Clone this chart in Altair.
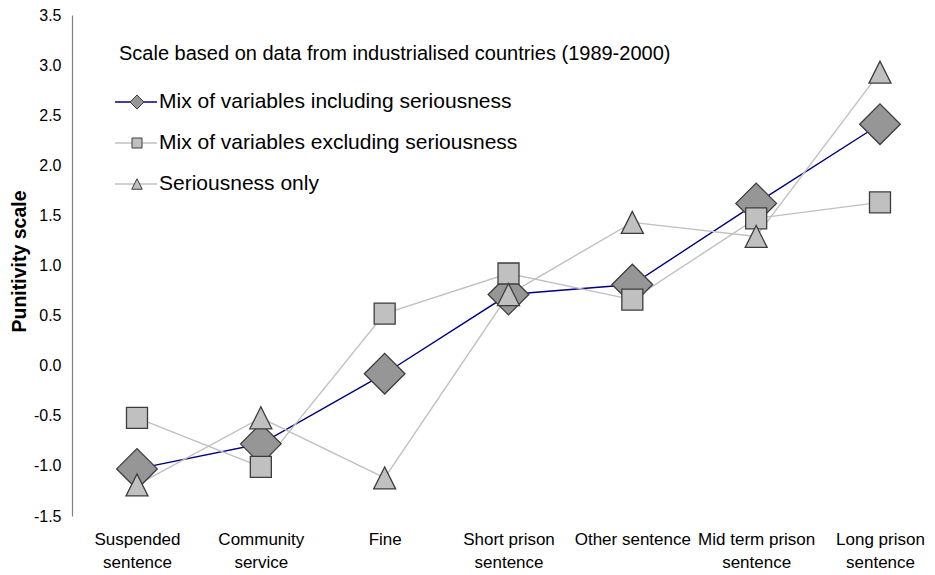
import altair as alt
import pandas as pd

categories = ["Suspended sentence", "Community service", "Fine", "Short prison sentence",
              "Other sentence", "Mid term prison sentence", "Long prison sentence"]
single_line = ["Fine", "Other sentence"]
series_names = ["Mix of variables including seriousness",
                "Mix of variables excluding seriousness",
                "Seriousness only"]
incl = [-1.03, -0.78, -0.08, 0.71, 0.81, 1.62, 2.41]
excl = [-0.52, -1.01, 0.52, 0.92, 0.66, 1.47, 1.63]
seri = [-1.19, -0.52, -1.12, 0.71, 1.43, 1.29, 2.93]
y_ticks = [-1.5, -1.0, -0.5, 0.0, 0.5, 1.0, 1.5, 2.0, 2.5, 3.0, 3.5]
legend_title = "Scale based on data from industrialised countries (1989-2000)"
y_title = "Punitivity scale"

FONT = "Liberation Sans"
line_colors = ["#000080", "#c0c0c0", "#c0c0c0"]
fills = ["#969696", "#c0c0c0", "#c0c0c0"]
tri = "M0,-1L-1,1L1,1Z"
shapes = ["diamond", "square", tri]
sizes = [1650, 441, 484]
leg_sizes = [196, 100, 110]

rows = []
for name, vals in zip(series_names, [incl, excl, seri]):
    for c, v in zip(categories, vals):
        rows.append({"category": c, "series": name, "value": v})
df = pd.DataFrame(rows)

cond = " || ".join(f"datum.label == '{s}'" for s in single_line)
label_expr = (f"({cond}) ? datum.label : [substring(datum.label, 0, lastindexof(datum.label, ' ')), "
              f"substring(datum.label, lastindexof(datum.label, ' ') + 1)]")

x_enc = alt.X("category:N", sort=categories,
              scale=alt.Scale(type="point", range=[65, 808], padding=0),
              axis=alt.Axis(title=None, domain=False, ticks=False, labelAngle=0,
                            labelFont=FONT, labelFontSize=17, labelColor="#000",
                            labelPadding=15, labelLineHeight=23, labelExpr=label_expr,
                            labelBaseline="top"))
y_enc = alt.Y("value:Q", scale=alt.Scale(domain=[-1.5, 3.5], nice=False, zero=False),
              axis=alt.Axis(title=y_title, values=y_ticks, format=".1f",
                            labelExpr="replace(datum.label, '\u2212', '-')",
                            grid=False, ticks=False, domainColor="#808080", domainWidth=1.2,
                            labelFont=FONT, labelFontSize=16, labelColor="#000", labelPadding=11,
                            titleFont=FONT, titleFontSize=19.5, titleFontWeight="bold",
                            titleColor="#000", titleAngle=270, titleAlign="center",
                            titleBaseline="middle", titleX=-53, titleY=246))

base = alt.Chart(df)
lines = base.mark_line(strokeWidth=1.4).encode(
    x=x_enc, y=y_enc,
    color=alt.Color("series:N", scale=alt.Scale(domain=series_names, range=line_colors), legend=None),
    detail="series:N",
)

layers = [lines]
for i, name in enumerate(series_names):
    layers.append(
        base.transform_filter(alt.datum.series == name).mark_point(
            shape=shapes[i], size=sizes[i], filled=True, fill=fills[i], stroke="#3c3c3c",
            strokeWidth=1.3, opacity=1, fillOpacity=1
        ).encode(x=x_enc, y=y_enc)
    )

# manual legend
title_df = pd.DataFrame({"t": [legend_title]})
layers.append(alt.Chart(title_df).mark_text(align="left", baseline="middle", font=FONT,
                                            fontSize=20, color="#000").encode(
    x=alt.value(47), y=alt.value(39), text="t:N"))
row_y = [87, 128, 169]
for i, name in enumerate(series_names):
    ldf = pd.DataFrame({"t": [name]})
    layers.append(alt.Chart(ldf).mark_rule(color=line_colors[i], strokeWidth=1.4).encode(
        x=alt.value(43), x2=alt.value(85), y=alt.value(row_y[i])))
    layers.append(alt.Chart(ldf).mark_point(shape=shapes[i], size=leg_sizes[i], filled=True,
                                            fill=fills[i], stroke="#3c3c3c", strokeWidth=1,
                                            opacity=1).encode(
        x=alt.value(65), y=alt.value(row_y[i])))
    layers.append(alt.Chart(ldf).mark_text(align="left", baseline="middle", font=FONT,
                                           fontSize=21, color="#000").encode(
        x=alt.value(87), y=alt.value(row_y[i]), text="t:N"))

chart = alt.layer(*layers).properties(
    width=855, height=501,
    autosize=alt.AutoSizeParams(type="none"),
    padding={"left": 64, "top": 7, "right": 0, "bottom": 60},
    background="white",
).configure_view(stroke=None)

chart.save("out.html", embed_options={"renderer": "svg", "actions": False})
